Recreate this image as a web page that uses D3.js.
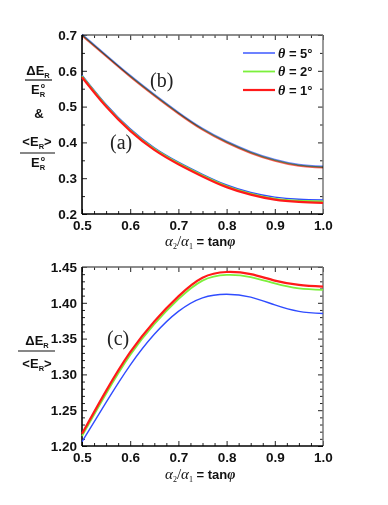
<!DOCTYPE html>
<html>
<head>
<meta charset="utf-8">
<script src="https://cdn.jsdelivr.net/npm/d3@7"></script>
<style>
  body { margin: 0; background: #fff; }
  svg { display: block; }
  .tick text { font-family: "Liberation Sans", Arial, sans-serif; font-weight: bold; font-size: 13.5px; fill: #111; }
</style>
</head>
<body>
<div id="chart-area"></div>
<script>
// ratio alpha2/alpha1 = tan(phi)
const ratio = [0.50, 0.55, 0.60, 0.65, 0.70, 0.75, 0.80, 0.85, 0.90, 0.95, 1.00]

// (b) dE_R / E_R0
const bTheta5 = [0.702, 0.644, 0.587, 0.534, 0.484, 0.439, 0.403, 0.374, 0.352, 0.338, 0.333]
const bTheta2 = [0.700, 0.642, 0.585, 0.532, 0.482, 0.437, 0.401, 0.372, 0.350, 0.336, 0.331]
const bTheta1 = [0.698, 0.640, 0.583, 0.530, 0.480, 0.435, 0.399, 0.370, 0.348, 0.334, 0.329]

// (a) <E_R> / E_R0
const aTheta5 = [0.588, 0.506, 0.438, 0.385, 0.345, 0.311, 0.281, 0.260, 0.247, 0.241, 0.239]
const aTheta2 = [0.585, 0.503, 0.435, 0.382, 0.342, 0.308, 0.278, 0.257, 0.243, 0.237, 0.235]
const aTheta1 = [0.582, 0.500, 0.432, 0.379, 0.339, 0.305, 0.275, 0.254, 0.240, 0.234, 0.231]

// (c) dE_R / <E_R>
const cTheta5 = [1.206, 1.261, 1.313, 1.356, 1.388, 1.407, 1.412, 1.408, 1.397, 1.388, 1.385]
const cTheta2 = [1.214, 1.273, 1.327, 1.370, 1.405, 1.431, 1.439, 1.436, 1.427, 1.420, 1.418]
const cTheta1 = [1.217, 1.277, 1.331, 1.374, 1.409, 1.435, 1.443, 1.440, 1.431, 1.425, 1.4225]

const legendLabels = ["5", "2", "1"]
const colors = ["#2f4cff", "#7cf03c", "#ff1a1a"]
const widths = [1.4, 1.8, 2.2]

const xTicks = [0.5, 0.6, 0.7, 0.8, 0.9, 1.0]
const topTicks = [0.2, 0.3, 0.4, 0.5, 0.6, 0.7]
const botTicks = [1.20, 1.25, 1.30, 1.35, 1.40, 1.45]

const W = 388, H = 505
const LEFT = 82, RIGHT = 323

const svg = d3.select("#chart-area").append("svg")
  .attr("width", W)
  .attr("height", H)

const x = d3.scaleLinear().domain([0.5, 1.0]).range([LEFT, RIGHT])
const yTop = d3.scaleLinear().domain([0.2, 0.7]).range([214, 35])
const yBot = d3.scaleLinear().domain([1.2, 1.45]).range([446, 267])

const serif = "'Liberation Serif', 'Times New Roman', serif"
const sans = "'Liberation Sans', Arial, sans-serif"

function drawAxes(y, yMajor, yMinorStep, fmt) {
  const [y0, y1] = y.domain()
  const yMinor = d3.range(y0, y1 + 1e-9, yMinorStep).filter(v => !yMajor.some(m => Math.abs(m - v) < 1e-6))
  const xMinor = d3.range(0.5, 1.0001, 0.025).filter(v => !xTicks.some(m => Math.abs(m - v) < 1e-6))
  const bottom = y.range()[0], top = y.range()[1]

  const g = svg.append("g")

  // bottom
  g.append("g").attr("transform", `translate(0,${bottom})`)
    .call(d3.axisBottom(x).tickValues(xTicks).tickFormat(d3.format(".1f")).tickSizeInner(-5).tickSizeOuter(0).tickPadding(6))
  g.append("g").attr("transform", `translate(0,${bottom})`)
    .call(d3.axisBottom(x).tickValues(xMinor).tickFormat("").tickSizeInner(-3).tickSizeOuter(0))
  // top
  g.append("g").attr("transform", `translate(0,${top})`)
    .call(d3.axisTop(x).tickValues(xTicks).tickFormat("").tickSizeInner(-5).tickSizeOuter(0))
  g.append("g").attr("transform", `translate(0,${top})`)
    .call(d3.axisTop(x).tickValues(xMinor).tickFormat("").tickSizeInner(-3).tickSizeOuter(0))
  // left
  g.append("g").attr("transform", `translate(${LEFT},0)`)
    .call(d3.axisLeft(y).tickValues(yMajor).tickFormat(fmt).tickSizeInner(-5).tickSizeOuter(0).tickPadding(5))
  g.append("g").attr("transform", `translate(${LEFT},0)`)
    .call(d3.axisLeft(y).tickValues(yMinor).tickFormat("").tickSizeInner(-3).tickSizeOuter(0))
  // right
  g.append("g").attr("transform", `translate(${RIGHT},0)`)
    .call(d3.axisRight(y).tickValues(yMajor).tickFormat("").tickSizeInner(-5).tickSizeOuter(0))
  g.append("g").attr("transform", `translate(${RIGHT},0)`)
    .call(d3.axisRight(y).tickValues(yMinor).tickFormat("").tickSizeInner(-3).tickSizeOuter(0))

  g.selectAll(".domain").remove()
  g.selectAll(".tick line").attr("stroke", "#222").attr("stroke-width", 1)

  // frame
  g.append("line").attr("x1", LEFT).attr("x2", RIGHT).attr("y1", top).attr("y2", top)
    .attr("stroke", "#666").attr("stroke-width", 1.5)
  g.append("line").attr("x1", RIGHT).attr("x2", RIGHT).attr("y1", top).attr("y2", bottom)
    .attr("stroke", "#777").attr("stroke-width", 1.5)
  g.append("line").attr("x1", LEFT).attr("x2", RIGHT).attr("y1", bottom).attr("y2", bottom)
    .attr("stroke", "#000").attr("stroke-width", 1.6)
  g.append("line").attr("x1", LEFT).attr("x2", LEFT).attr("y1", top).attr("y2", bottom)
    .attr("stroke", "#000").attr("stroke-width", 1.6)
}

function drawLines(y, seriesList, blend) {
  const line = d3.line()
    .x((d, i) => x(ratio[i]))
    .y(d => y(d))
    .curve(d3.curveNatural)
  const g = svg.append("g")
  seriesList.forEach((s, i) => {
    g.append("path")
      .attr("d", line(s))
      .attr("fill", "none")
      .attr("stroke", colors[i])
      .attr("stroke-width", blend ? 1.6 : widths[i])
      .attr("stroke-opacity", blend ? 0.7 : 1)
      .style("mix-blend-mode", blend ? "multiply" : "normal")
  })
}

drawAxes(yTop, topTicks, 0.05, d3.format(".1f"))
drawAxes(yBot, botTicks, 0.01, d3.format(".2f"))

drawLines(yTop, [bTheta5, bTheta2, bTheta1], true)
drawLines(yTop, [aTheta5, aTheta2, aTheta1], false)
drawLines(yBot, [cTheta5, cTheta2, cTheta1], false)

// panel tags
const tags = [["(b)", 150, 87], ["(a)", 110, 149], ["(c)", 107, 345]]
tags.forEach(t => {
  svg.append("text").attr("x", t[1]).attr("y", t[2])
    .attr("font-family", serif).attr("font-size", "20px").attr("fill", "#222")
    .text(t[0])
})

// legend
legendLabels.forEach((lab, i) => {
  const ly = 53 + i * 18.5
  svg.append("line").attr("x1", 243).attr("x2", 275).attr("y1", ly).attr("y2", ly)
    .attr("stroke", colors[i]).attr("stroke-width", widths[i])
  const t = svg.append("text").attr("x", 278).attr("y", ly + 4.5).attr("fill", "#111")
  t.append("tspan").attr("font-family", serif).attr("font-style", "italic").attr("font-weight", "bold")
    .attr("font-size", "14px").text("θ")
  t.append("tspan").attr("font-family", sans).attr("font-weight", "bold")
    .attr("font-size", "13px").text(" = " + lab + "°")
})

// x labels
function xLabel(yb) {
  const t = svg.append("text").attr("x", 165).attr("y", yb).attr("fill", "#111")
  t.append("tspan").attr("font-family", serif).attr("font-style", "italic").attr("font-size", "15px").text("α")
  t.append("tspan").attr("font-family", serif).attr("font-size", "8px").attr("dy", 3).text("2")
  t.append("tspan").attr("font-family", serif).attr("font-size", "15px").attr("dy", -3).text("/")
  t.append("tspan").attr("font-family", serif).attr("font-style", "italic").attr("font-size", "15px").text("α")
  t.append("tspan").attr("font-family", serif).attr("font-size", "8px").attr("dy", 3).text("1")
  t.append("tspan").attr("font-family", sans).attr("font-weight", "bold").attr("font-size", "13px").attr("dy", -3).text(" = tan")
  t.append("tspan").attr("font-family", serif).attr("font-style", "italic").attr("font-weight", "bold").attr("font-size", "14px").text("φ")
}
xLabel(246)
xLabel(479)

// y label pieces
function er(xc, yb, pre, post, sup) {
  const t = svg.append("text").attr("x", xc).attr("y", yb).attr("text-anchor", "middle")
    .attr("font-family", sans).attr("font-weight", "bold").attr("fill", "#111")
  t.append("tspan").attr("font-size", "13px").text(pre + "E")
  t.append("tspan").attr("font-size", "7.5px").attr("dy", 3).text("R")
  if (post) t.append("tspan").attr("font-size", "13px").attr("dy", -3).text(post)
  if (sup) {
    const bb = t.node().getBBox()
    svg.append("text").attr("x", bb.x + bb.width - 5).attr("y", yb - 6)
      .attr("font-family", sans).attr("font-weight", "bold").attr("font-size", "7px").attr("fill", "#111")
      .text("o")
  }
}
function rule(x1, x2, yy) {
  svg.append("line").attr("x1", x1).attr("x2", x2).attr("y1", yy).attr("y2", yy)
    .attr("stroke", "#111").attr("stroke-width", 1.2)
}

er(38, 75, "Δ", "", false)
rule(25, 52, 80)
er(38, 94, "", "", true)
svg.append("text").attr("x", 39).attr("y", 118).attr("text-anchor", "middle")
  .attr("font-family", sans).attr("font-weight", "bold").attr("font-size", "13px").attr("fill", "#111").text("&")
er(37, 146, "<", ">", false)
rule(20, 55, 153)
er(38, 167, "", "", true)

er(37, 345, "Δ", "", false)
rule(18, 55, 351)
er(37, 368, "<", ">", false)
</script>
</body>
</html>
